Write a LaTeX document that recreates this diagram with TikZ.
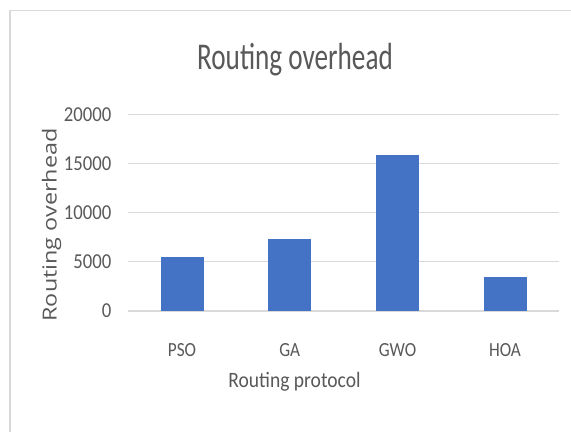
\documentclass[tikz,border=0pt]{standalone}
\usepackage{fontspec}
\setmainfont{Carlito}
\newfontfamily\ytitlefont{Open Sans}
\definecolor{barblue}{HTML}{4472C4}
\definecolor{gridgray}{HTML}{D9D9D9}
\definecolor{textgray}{HTML}{595959}
\begin{document}
\begin{tikzpicture}[x=0.02cm, y=-0.02cm, line join=round,
    gridline/.style={draw=gridgray, line width=0.6pt},
    bar/.style={fill=barblue, draw=none},
    ticklab/.style={text=textgray, inner sep=0pt, anchor=east,
        font=\fontsize{12.1}{14}\selectfont, xscale=0.88},
    catlab/.style={text=textgray, inner sep=0pt, anchor=base,
        font=\fontsize{11.4}{13}\selectfont, xscale=0.86}]
\useasboundingbox[fill=white] (0,0) rectangle (571,432);
\draw[draw=gridgray, line width=1.1pt] (10,432) -- (10,10.5) -- (571,10.5);

\node[text=textgray, inner sep=0pt, anchor=base, font=\fontsize{21.5}{24}\selectfont, xscale=0.72]
    (title) at (295,69.3) {Routing overhead};

\foreach \v/\lab in {0/0,5/5000,10/10000,15/15000,20/20000} {
    \coordinate (g\v) at (128,311-9.83*\v);
    \draw[gridline] (g\v) -- ++(431,0);
    \node[ticklab] (t\v) at (111.7,311-9.83*\v) {\lab};
}

\foreach \n/\c/\v in {PSO/182/5.5,GA/289.7/7.3,GWO/397.5/15.9,HOA/505/3.5} {
    \fill[bar] (\c-21.5,311) rectangle (\c+21.5,311-9.83*\v);
    \node[catlab] (l\n) at (\c,356) {\n};
}

\node[text=textgray, inner sep=0pt, anchor=base, font=\fontsize{12.5}{15}\selectfont, xscale=0.89]
    (xtitle) at (294.5,387.3) {Routing protocol};
\node[text=textgray, inner sep=0pt, anchor=base, rotate=90, yscale=0.83,
    font=\ytitlefont\fontsize{13.3}{16}\selectfont]
    (ytitle) at (56.7,225) {Routing overhead};
\end{tikzpicture}
\end{document}
